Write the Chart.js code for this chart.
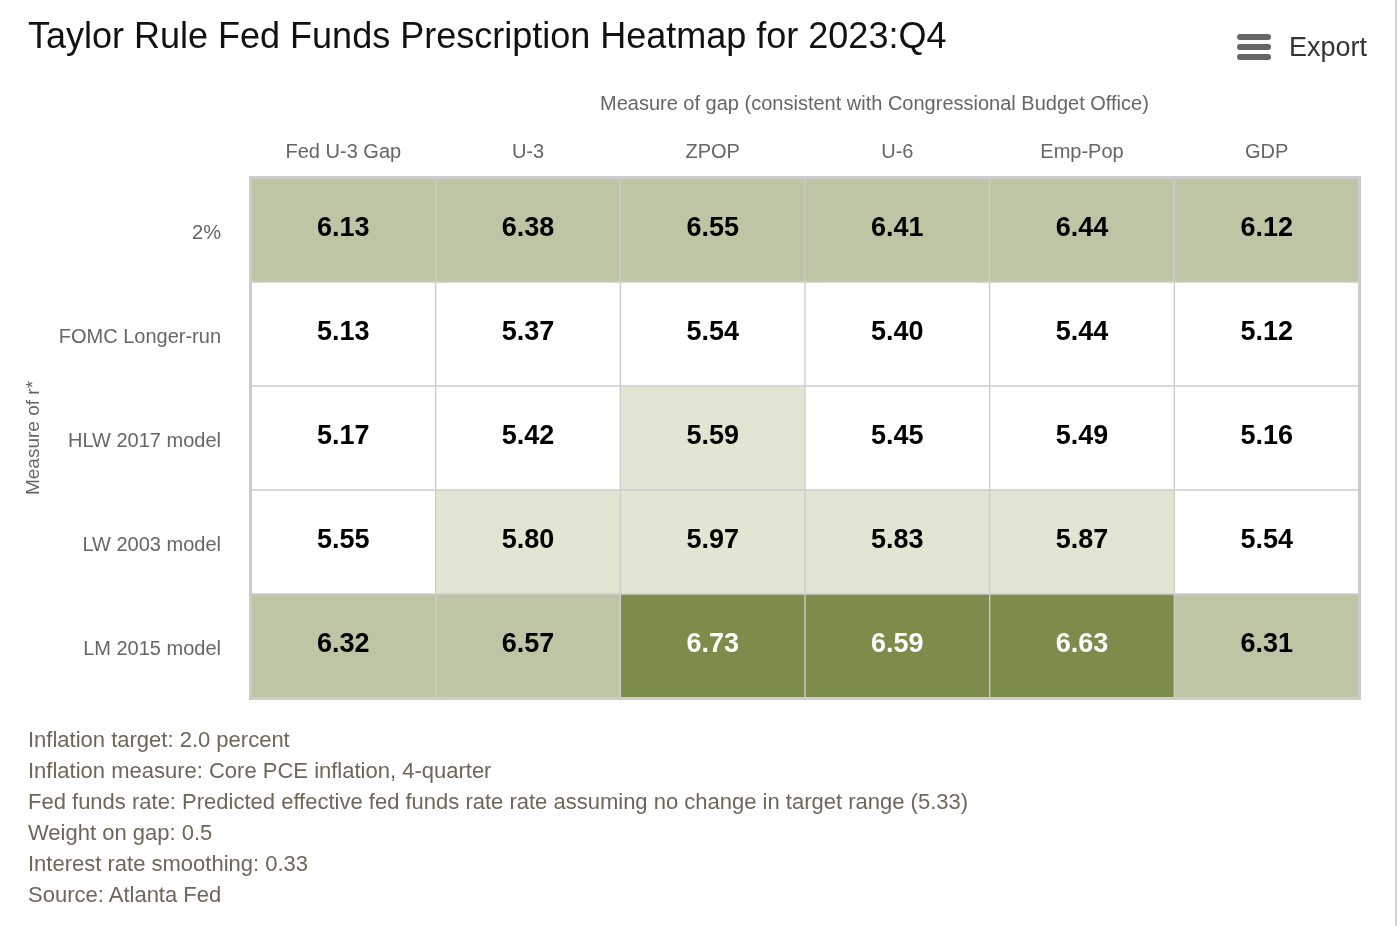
<!DOCTYPE html>
<html>
<head>
    <title>Taylor Rule Heatmap</title>
    <script src="https://cdn.jsdelivr.net/npm/chart.js"></script>
    <style>
        body { margin: 0; background: #fff; font-family: 'Liberation Sans', Arial, Helvetica, sans-serif; }
        #wrap { position: relative; width: 1398px; height: 926px; overflow: hidden; }
        #heatmap { position: absolute; left: 0; top: 0; }
        #title { position: absolute; left: 28px; top: 15px; font-size: 36px; color: #111; white-space: nowrap; }
        #gapTitle { position: absolute; left: 600px; top: 92px; font-size: 20px; color: #666; white-space: nowrap; }
        #export { position: absolute; left: 1237px; top: 29px; height: 36px; display: flex; align-items: center; color: #333; font-size: 27px; }
        #export .icon { width: 34px; margin-right: 18px; }
        #export .icon div { height: 6px; background: #666; border-radius: 3px; margin: 4px 0; }
        #notes { position: absolute; left: 28px; top: 724px; font-size: 22px; line-height: 31px; color: #6e6659; }
        #edge { position: absolute; right: 1px; top: 0; width: 2px; height: 926px; background: #d4d4d4; }
    </style>
</head>
<body>
<div id="wrap">
    <canvas id="heatmap" width="1398" height="926"></canvas>
    <div id="title">Taylor Rule Fed Funds Prescription Heatmap for 2023:Q4</div>
    <div id="gapTitle">Measure of gap (consistent with Congressional Budget Office)</div>
    <div id="export"><div class="icon"><div></div><div></div><div></div></div>Export</div>
    <div id="notes"></div>
    <div id="edge"></div>
</div>

<script>
// columns (gap measures) and rows (r* measures, top to bottom)
const gapMeasures = ['Fed U-3 Gap', 'U-3', 'ZPOP', 'U-6', 'Emp-Pop', 'GDP'];
const rstarMeasures = ['2%', 'FOMC Longer-run', 'HLW 2017 model', 'LW 2003 model', 'LM 2015 model'];

// prescribed rates, one array per row
const row2pct = [6.13, 6.38, 6.55, 6.41, 6.44, 6.12];
const rowFomc = [5.13, 5.37, 5.54, 5.40, 5.44, 5.12];
const rowHlw  = [5.17, 5.42, 5.59, 5.45, 5.49, 5.16];
const rowLw   = [5.55, 5.80, 5.97, 5.83, 5.87, 5.54];
const rowLm   = [6.32, 6.57, 6.73, 6.59, 6.63, 6.31];
const rows = [row2pct, rowFomc, rowHlw, rowLw, rowLm];

const notes = [
    'Inflation target: 2.0 percent',
    'Inflation measure: Core PCE inflation, 4-quarter',
    'Fed funds rate: Predicted effective fed funds rate rate assuming no change in target range (5.33)',
    'Weight on gap: 0.5',
    'Interest rate smoothing: 0.33',
    'Source: Atlanta Fed'
];

document.getElementById('notes').innerHTML = notes.map(n => '<div>' + n + '</div>').join('');

function cellColor(v) {
    if (v >= 6.58) return '#7b8c4b';
    if (v >= 6.0) return '#bdc6a4';
    if (v >= 5.57) return '#e1e6d2';
    return '#ffffff';
}

const FONT = "'Liberation Sans', Arial, Helvetica, sans-serif";

// stacked bars: bottom row first so the 2% row ends up on top
const datasets = rows.slice().reverse().map((vals, i) => ({
    label: rstarMeasures[rstarMeasures.length - 1 - i],
    data: vals.map(() => 1),
    heat: vals,
    backgroundColor: vals.map(cellColor),
    borderColor: '#cccccc',
    borderWidth: 1,
    borderSkipped: false,
    barPercentage: 1,
    categoryPercentage: 1
}));

const cellLabels = {
    id: 'cellLabels',
    afterDatasetsDraw(chart) {
        const ctx = chart.ctx;
        const area = chart.chartArea;
        ctx.save();
        ctx.strokeStyle = '#cccccc';
        ctx.lineWidth = 3;
        ctx.strokeRect(area.left - 0.5, area.top - 0.5, area.right - area.left + 1, area.bottom - area.top + 1);
        ctx.font = 'bold 27px ' + FONT;
        ctx.textAlign = 'center';
        ctx.textBaseline = 'middle';
        chart.data.datasets.forEach((ds, di) => {
            chart.getDatasetMeta(di).data.forEach((bar, j) => {
                const v = ds.heat[j];
                ctx.fillStyle = v >= 6.58 ? '#ffffff' : '#000000';
                ctx.fillText(v.toFixed(2), bar.x, (bar.y + bar.base) / 2 - 1);
            });
        });
        ctx.restore();
    }
};

new Chart(document.getElementById('heatmap'), {
    type: 'bar',
    data: { labels: gapMeasures, datasets: datasets },
    options: {
        responsive: false,
        animation: false,
        layout: { padding: { left: 0, top: 0, right: 39, bottom: 228 } },
        plugins: {
            legend: { display: false },
            tooltip: { enabled: false }
        },
        scales: {
            x: {
                position: 'top',
                stacked: true,
                grid: { display: false, drawTicks: false },
                border: { display: false },
                ticks: { color: '#666', font: { family: FONT, size: 20 }, padding: 14 },
                afterFit(scale) { scale.height = 178; }
            },
            y: {
                stacked: true,
                min: 0,
                max: rows.length,
                grid: { display: false, drawTicks: false },
                border: { display: false },
                afterBuildTicks(scale) {
                    scale.ticks = rows.map((r, i) => ({ value: i + 0.47 }));
                },
                ticks: {
                    color: '#666',
                    font: { family: FONT, size: 20 },
                    padding: 30,
                    callback: (v) => rstarMeasures[rstarMeasures.length - 1 - Math.floor(v)]
                },
                title: {
                    display: true,
                    text: 'Measure of r*',
                    color: '#666',
                    font: { family: FONT, size: 19 },
                    padding: { top: 22 }
                },
                afterFit(scale) { scale.width = 251; }
            }
        }
    },
    plugins: [cellLabels]
});
</script>
</body>
</html>
